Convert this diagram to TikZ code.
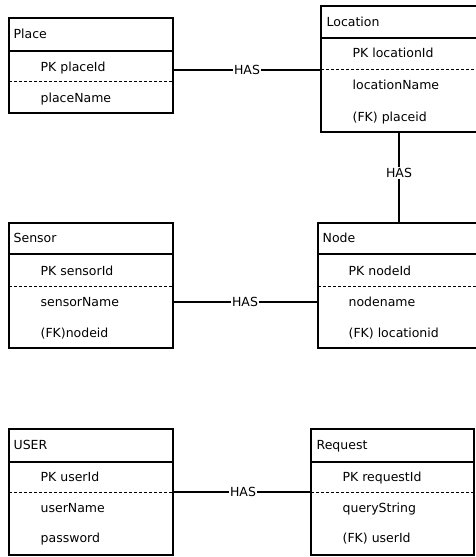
\documentclass[tikz,border=0pt]{standalone}
\usepackage{fontspec}
\setmainfont{DejaVu Sans}

\begin{document}
\begin{tikzpicture}[x=1pt, y=-1pt, line width=1.3pt,
  entity/.style={draw, rectangle, anchor=north west, inner sep=0pt, outer sep=0pt},
  title/.style={anchor=west, inner sep=0pt, text height=9pt, text depth=0pt,
    font=\fontsize{12.5}{14}\selectfont},
  field/.style={title},
  keyline/.style={line width=0.9pt, dash pattern=on 3pt off 2pt},
  rel/.style={inner sep=0.5pt, text height=9pt, text depth=0pt,
    font=\fontsize{12.5}{14}\selectfont}]
  \useasboundingbox (0,0) rectangle (475,557);

  % Place
  \node[entity, minimum width=164pt, minimum height=95pt] (placeBox) at (9,18) {};
  \draw (9,51) -- (173,51);
  \draw[keyline] (9,81) -- (173,81);
  \node[title] (place) at (13,34) {Place};
  \node[field] (placeId) at (40,67) {PK placeId};
  \node[field] (placeName) at (40,98) {placeName};

  % Location
  \node[entity, minimum width=156pt, minimum height=126pt] (locBox) at (321,6) {};
  \draw (321,38) -- (477,38);
  \draw[keyline] (321,69) -- (477,69);
  \node[title] (location) at (326,22) {Location};
  \node[field] (locationId) at (352,53) {PK locationId};
  \node[field] (locationName) at (352,85) {locationName};
  \node[field] (placeFk) at (352,117) {(FK) placeid};

  % Sensor
  \node[entity, minimum width=164pt, minimum height=125pt] (sensorBox) at (9,223) {};
  \draw (9,254) -- (173,254);
  \draw[keyline] (9,286) -- (173,286);
  \node[title] (sensor) at (13,238) {Sensor};
  \node[field] (sensorId) at (40,271) {PK sensorId};
  \node[field] (sensorName) at (40,302) {sensorName};
  \node[field] (nodeFk) at (40,333) {(FK)nodeid};

  % Node
  \node[entity, minimum width=162pt, minimum height=125pt] (nodeBox) at (318,223) {};
  \draw (318,254) -- (480,254);
  \draw[keyline] (318,286) -- (480,286);
  \node[title] (node) at (322,238) {Node};
  \node[field] (nodeId) at (348,271) {PK nodeId};
  \node[field] (nodeName) at (348,302) {nodename};
  \node[field] (locationFk) at (348,333) {(FK) locationid};

  % USER
  \node[entity, minimum width=164pt, minimum height=126pt] (userBox) at (9,429) {};
  \draw (9,462) -- (173,462);
  \draw[keyline] (9,492) -- (173,492);
  \node[title] (user) at (13,445) {USER};
  \node[field] (userId) at (40,477) {PK userId};
  \node[field] (userName) at (40,508) {userName};
  \node[field] (password) at (40,538) {password};

  % Request
  \node[entity, minimum width=163pt, minimum height=126pt] (reqBox) at (311,429) {};
  \draw (311,462) -- (474,462);
  \draw[keyline] (311,492) -- (474,492);
  \node[title] (request) at (316,445) {Request};
  \node[field] (requestId) at (342,477) {PK requestId};
  \node[field] (queryString) at (342,508) {queryString};
  \node[field] (userFk) at (342,538) {(FK) userId};

  % relationships
  \node[rel] (has1) at (247,70) {HAS};
  \node[rel] (has2) at (399,173) {HAS};
  \node[rel] (has3) at (245,302) {HAS};
  \node[rel] (has4) at (243,492) {HAS};

  \draw (placeBox.east |- has1) -- (has1.west);
  \draw (has1.east) -- (locBox.west |- has1);
  \draw (locBox.south) -- (has2.north);
  \draw (has2.south) -- (nodeBox.north -| has2);
  \draw (sensorBox.east |- has3) -- (has3.west);
  \draw (has3.east) -- (nodeBox.west |- has3);
  \draw (userBox.east |- has4) -- (has4.west);
  \draw (has4.east) -- (reqBox.west |- has4);
\end{tikzpicture}
\end{document}
